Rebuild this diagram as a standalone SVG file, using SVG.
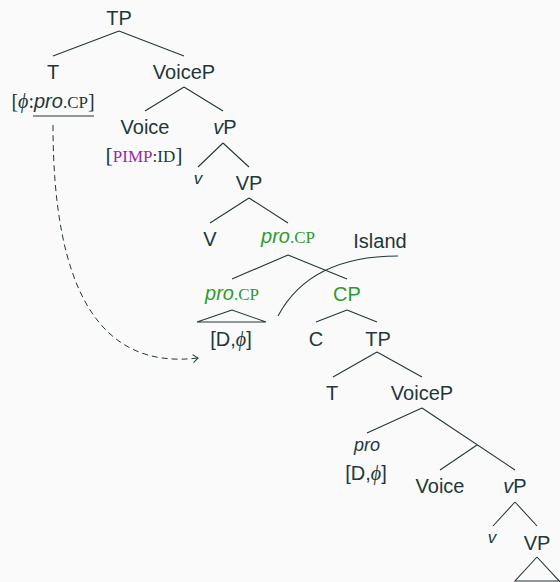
<svg xmlns="http://www.w3.org/2000/svg" width="560" height="582" viewBox="0 0 560 582">
<defs>
<style>
.bg{fill:#fafafa}
text{fill:#23373b;font-family:"Liberation Sans",Arial,sans-serif;font-size:20px}
.it{font-style:italic}
.sc{font-family:"Liberation Serif","Times New Roman",serif;font-size:17px}
.sf{font-family:"Liberation Serif","Times New Roman",serif}
.g{fill:#2e9a2e}
.pu{fill:#9b2a9b}
.e{stroke:#23373b;stroke-width:1.1;fill:none}
.d{stroke:#23373b;stroke-width:1;fill:none;stroke-dasharray:6 4}
</style>
<marker id="arr" viewBox="-7 -5 9 10" markerWidth="9" markerHeight="10" refX="0" refY="0" orient="auto" markerUnits="userSpaceOnUse">
<path d="M -5 -4 L 0 0 L -5 4" fill="none" stroke="#23373b" stroke-width="1"/>
</marker>
</defs>
<rect class="bg" x="0" y="0" width="560" height="582"/>
<g id="connectors">
<path class="e" d="M119 31 L53 56 M119 31 L184 56"/>
<path class="e" d="M184 87 L145 111 M184 87 L223 111"/>
<path class="e" d="M223 143 L198 167 M223 143 L249 167"/>
<path class="e" d="M249 198 L210 223 M249 198 L288 223"/>
<path class="e" d="M288 255 L232 279 M288 255 L347 279"/>
<path class="e" d="M232 310 L197 322 L266 322 Z"/>
<path class="e" d="M347 310 L316 322 M347 310 L377 322"/>
<path class="e" d="M377 352 L333 377 M377 352 L422 377"/>
<path class="e" d="M422 408 L367 433 M422 408 L515 470 M477 445 L440 470"/>
<path class="e" d="M515 502 L493 526 M515 502 L537 526"/>
<path class="e" d="M537 557 L515 581 L560 581 M537 557 L561 583"/>
<path class="e" d="M398 256 Q310 256 278 316"/>
<path class="e" d="M33 116 L94 116"/>
<path class="d" d="M53 125 C53 290 100 370 198 358" marker-end="url(#arr)"/>
</g>
<g id="n-tp1"><text x="119" y="25" text-anchor="middle">TP</text></g>
<g id="n-t1"><text x="53" y="79" text-anchor="middle">T</text>
<text x="53" y="108" text-anchor="middle"><tspan class="sf">[</tspan><tspan class="sf it">ϕ</tspan><tspan class="sf">:</tspan><tspan class="it">pro</tspan><tspan class="sc">.CP</tspan><tspan class="sf">]</tspan></text></g>
<g id="n-voicep1"><text x="184" y="79" text-anchor="middle">VoiceP</text></g>
<g id="n-voice1"><text x="145" y="134" text-anchor="middle">Voice</text>
<text x="144" y="162" text-anchor="middle"><tspan class="sf" style="font-size:22px">[</tspan><tspan class="sc pu">PIMP</tspan><tspan class="sc">:ID</tspan><tspan class="sf" style="font-size:22px">]</tspan></text></g>
<g id="n-vp1"><text x="225" y="134" text-anchor="middle"><tspan class="it">v</tspan>P</text></g>
<g id="n-v1"><text x="198" y="184" text-anchor="middle" class="it" style="font-size:17px">v</text></g>
<g id="n-VP1"><text x="249" y="190" text-anchor="middle">VP</text></g>
<g id="n-V"><text x="210" y="246" text-anchor="middle">V</text></g>
<g id="n-procp1"><text x="288" y="243" text-anchor="middle" class="g"><tspan class="it g">pro</tspan><tspan class="sc g">.CP</tspan></text></g>
<g id="n-island"><text x="380" y="248" text-anchor="middle">Island</text></g>
<g id="n-procp2"><text x="232" y="300" text-anchor="middle" class="g"><tspan class="it g">pro</tspan><tspan class="sc g">.CP</tspan></text>
<text x="231" y="346" text-anchor="middle">[D,<tspan class="sf it">ϕ</tspan>]</text></g>
<g id="n-cp"><text x="347" y="301" text-anchor="middle" class="g">CP</text></g>
<g id="n-c"><text x="316" y="346" text-anchor="middle">C</text></g>
<g id="n-tp2"><text x="378" y="346" text-anchor="middle">TP</text></g>
<g id="n-t2"><text x="332" y="400" text-anchor="middle">T</text></g>
<g id="n-voicep2"><text x="422" y="400" text-anchor="middle">VoiceP</text></g>
<g id="n-pro"><text x="367" y="451" text-anchor="middle" class="it" style="font-size:18px">pro</text>
<text x="366" y="480" text-anchor="middle">[D,<tspan class="sf it">ϕ</tspan>]</text></g>
<g id="n-voice2"><text x="440" y="493" text-anchor="middle">Voice</text></g>
<g id="n-vp2"><text x="515" y="493" text-anchor="middle"><tspan class="it">v</tspan>P</text></g>
<g id="n-v2"><text x="492" y="543" text-anchor="middle" class="it" style="font-size:17px">v</text></g>
<g id="n-VP2"><text x="537" y="550" text-anchor="middle">VP</text></g>
</svg>
